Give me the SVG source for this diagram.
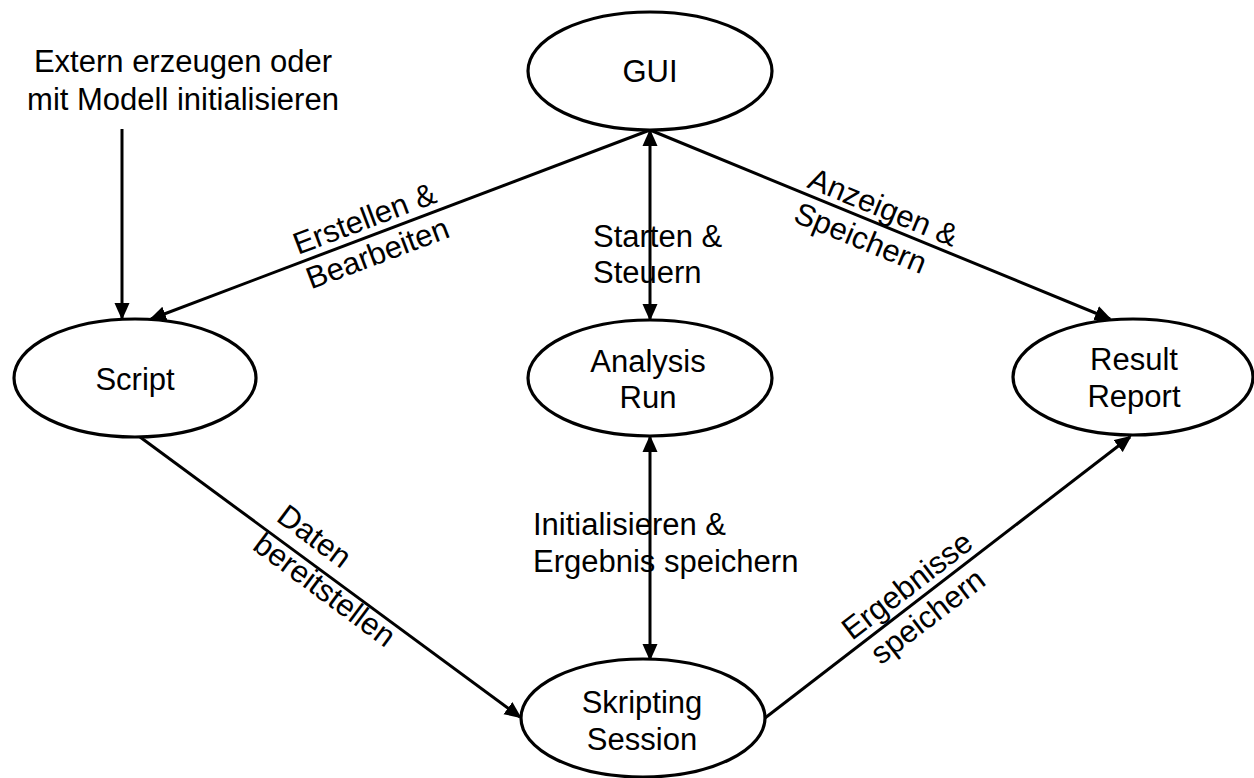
<svg xmlns="http://www.w3.org/2000/svg" width="1254" height="778" viewBox="0 0 1254 778">
  <style>
    .node ellipse { fill: #ffffff; stroke: #000000; stroke-width: 3.2; }
    .lbl { font-family: "Liberation Sans", Arial, sans-serif; font-size: 31px; fill: #000000; }
    .mid { text-anchor: middle; }
    .start { text-anchor: start; }
    .edge { fill: none; stroke: #000000; stroke-width: 3; }
  </style>
  <defs>
    <marker id="arrow" markerUnits="userSpaceOnUse" markerWidth="17" markerHeight="16" refX="15" refY="7.5" orient="auto-start-reverse" viewBox="0 0 17 15">
      <path d="M0,0 L17,7.5 L0,15 z" fill="#000000"/>
    </marker>
  </defs>

  <rect width="1254" height="778" fill="#ffffff"/>

  <!-- connectors -->
  <g id="connectors">
    <path class="edge" d="M122,129 L122,318" marker-end="url(#arrow)"/>
    <path class="edge" d="M650,130 L151,319" marker-end="url(#arrow)"/>
    <path class="edge" d="M650,131 L650,319" marker-start="url(#arrow)" marker-end="url(#arrow)"/>
    <path class="edge" d="M650,130 L1110,319" marker-end="url(#arrow)"/>
    <path class="edge" d="M140,437 L520,717" marker-end="url(#arrow)"/>
    <path class="edge" d="M650,437 L650,659" marker-start="url(#arrow)" marker-end="url(#arrow)"/>
    <path class="edge" d="M765,718 L1130,437" marker-end="url(#arrow)"/>

    <!-- edge labels -->
    <text class="lbl mid" x="183" y="72">Extern erzeugen oder</text>
    <text class="lbl mid" x="183" y="110">mit Modell initialisieren</text>

    <g transform="translate(298,255) rotate(-20.7)">
      <text class="lbl start" x="0" y="0">Erstellen &amp;</text>
      <text class="lbl start" x="0" y="37">Bearbeiten</text>
    </g>

    <text class="lbl start" x="593" y="247">Starten &amp;</text>
    <text class="lbl start" x="593" y="283">Steuern</text>

    <g transform="translate(806,187) rotate(22.3)">
      <text class="lbl start" x="0" y="0">Anzeigen &amp;</text>
      <text class="lbl start" x="0" y="37">Speichern</text>
    </g>

    <g transform="translate(275,520) rotate(36.6)">
      <text class="lbl start" x="0" y="0">Daten</text>
      <text class="lbl start" x="-2" y="37">bereitstellen</text>
    </g>

    <text class="lbl start" x="533" y="535">Initialisieren &amp;</text>
    <text class="lbl start" x="533" y="572">Ergebnis speichern</text>

    <g transform="translate(852,641) rotate(-37.5)">
      <text class="lbl start" x="0" y="0">Ergebnisse</text>
      <text class="lbl start" x="8" y="37">speichern</text>
    </g>
  </g>

  <!-- nodes -->
  <g id="gui" class="node">
    <ellipse cx="650" cy="71" rx="122" ry="59"/>
    <text class="lbl mid" x="650" y="82">GUI</text>
  </g>

  <g id="script" class="node">
    <ellipse cx="135" cy="378" rx="121" ry="59"/>
    <text class="lbl mid" x="135" y="390">Script</text>
  </g>

  <g id="analysis-run" class="node">
    <ellipse cx="650" cy="378" rx="122" ry="58"/>
    <text class="lbl mid" x="648" y="372">Analysis</text>
    <text class="lbl mid" x="648" y="408">Run</text>
  </g>

  <g id="result-report" class="node">
    <ellipse cx="1133" cy="377" rx="120" ry="58"/>
    <text class="lbl mid" x="1134" y="370">Result</text>
    <text class="lbl mid" x="1134" y="407">Report</text>
  </g>

  <g id="skripting-session" class="node">
    <ellipse cx="643" cy="718" rx="122" ry="59"/>
    <text class="lbl mid" x="642" y="713">Skripting</text>
    <text class="lbl mid" x="642" y="750">Session</text>
  </g>
</svg>
